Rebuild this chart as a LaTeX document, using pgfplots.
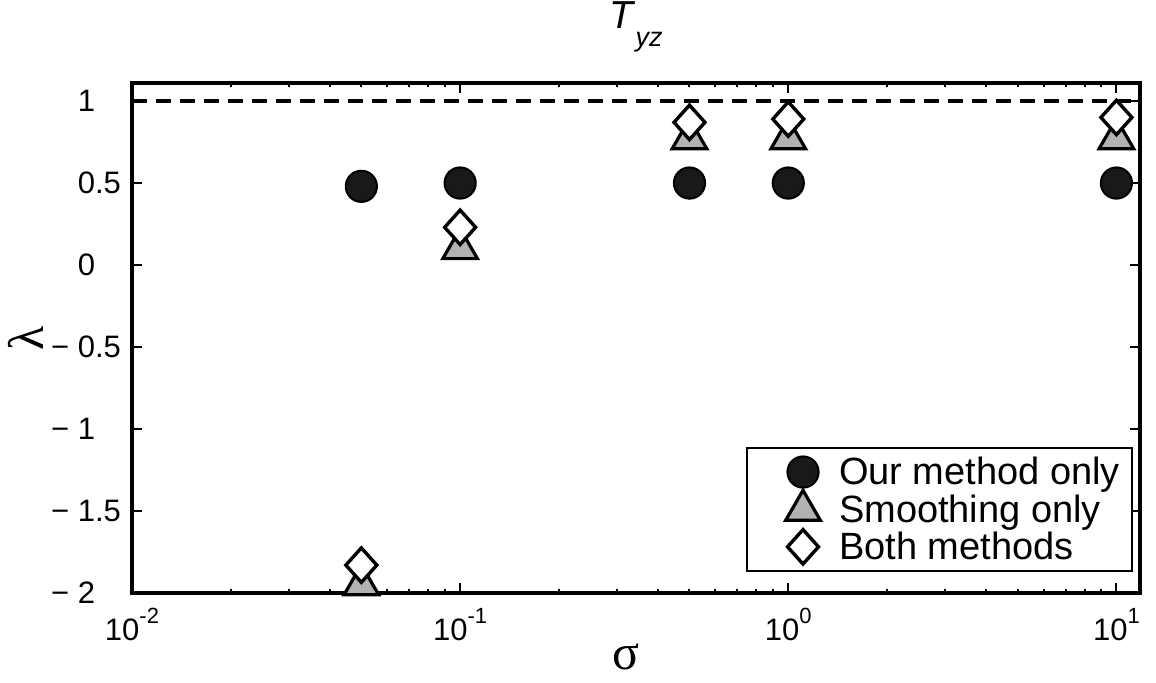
\documentclass[border=0pt]{standalone}
\usepackage{pgfplots}
\pgfplotsset{compat=1.18}
\usepackage{fontspec}
\setmainfont{Liberation Sans}
\newfontfamily\greekfont{Liberation Serif}
\definecolor{triFill}{gray}{0.7}
\definecolor{circFill}{gray}{0.1}
\newcommand{\tenpow}[1]{10\raisebox{0.55em}{\fontsize{11}{11}\selectfont #1}}
\begin{document}
\begin{tikzpicture}
\begin{axis}[
  name=ax,
  at={(0,0)}, anchor=south west,
  scale only axis,
  width=504pt, height=255pt,
  xmode=log,
  xmin=0.01, xmax=11.8,
  ymin=-2, ymax=1.11,
  axis line style={line width=2pt},
  every tick/.style={black, line width=1pt},
  major tick length=5pt,
  minor tick length=2.2pt,
  tick align=inside,
  xtick={0.01,0.1,1,10},
  xticklabels={\tenpow{-2},\tenpow{-1},\tenpow{0},\tenpow{1}},
  ytick={-2,-1.5,-1,-0.5,0,0.5,1},
  yticklabels={{− 2\phantom{.5}},{− 1.5},{− 1\phantom{.5}},{− 0.5},{0\phantom{.5}},{0.5},{1\phantom{.5}}},
  ticklabel style={font=\fontsize{15.5}{18}\selectfont},
  yticklabel style={xshift=-2pt},
  xticklabel style={yshift=-4pt},
  xlabel={\greekfont σ},
  ylabel={\greekfont λ},
  xlabel style={font=\fontsize{25}{25}\selectfont, at={(axis description cs:0.49,-0.125)}, anchor=center},
  ylabel style={font=\fontsize{25}{25}\selectfont, at={(axis description cs:-0.105,0.5)}, anchor=center},
  title={\textit{T}\raisebox{-0.45em}{\fontsize{13.5}{13.5}\selectfont\textit{yz}}},
  title style={font=\fontsize{19.5}{19.5}\selectfont, at={(axis description cs:0.5,1.083)}, anchor=base},
  legend cell align=left,
  legend style={
    at={(axis description cs:0.993,0.041)}, anchor=south east,
    font=\fontsize{19}{19}\selectfont,
    draw=black, line width=1pt,
    row sep=0pt,
    column sep=0pt,
    inner xsep=4pt, inner ysep=3pt,
    nodes={inner ysep=1.5pt},
  },
  legend image code/.code={
    \path[draw=none, fill=none] (-4pt,-5pt) rectangle (36pt,5pt);
    \draw[#1] plot coordinates {(20pt,0pt)};
  },
  clip=false,
]
\addplot[forget plot, black, line width=2pt, dash pattern=on 7.5pt off 4.5pt]
  coordinates {(0.01,1) (11.8,1)};

\addplot[only marks, mark=*, mark size=7.8pt,
  mark options={draw=black, fill=circFill, line width=1pt}]
  coordinates {(0.05,0.48) (0.1,0.50) (0.5,0.50) (1,0.50) (10,0.50)};
\addlegendentry{Our method only}

\addplot[only marks, mark=triangle*, mark size=10pt,
  mark options={draw=black, fill=triFill, line width=1.6pt}]
  coordinates {(0.05,-1.95) (0.1,0.10) (0.5,0.77) (1,0.77) (10,0.77)};
\addlegendentry{Smoothing only}

\addplot[only marks, mark=diamond*, mark size=8.6pt,
  mark options={draw=black, fill=white, line width=1.7pt, xscale=1.2}]
  coordinates {(0.05,-1.83) (0.1,0.23) (0.5,0.87) (1,0.89) (10,0.90)};
\addlegendentry{Both methods}
\end{axis}
\pgfresetboundingbox
\path (-66pt,-44.5pt) rectangle (512pt,296.5pt);
\end{tikzpicture}
\end{document}
